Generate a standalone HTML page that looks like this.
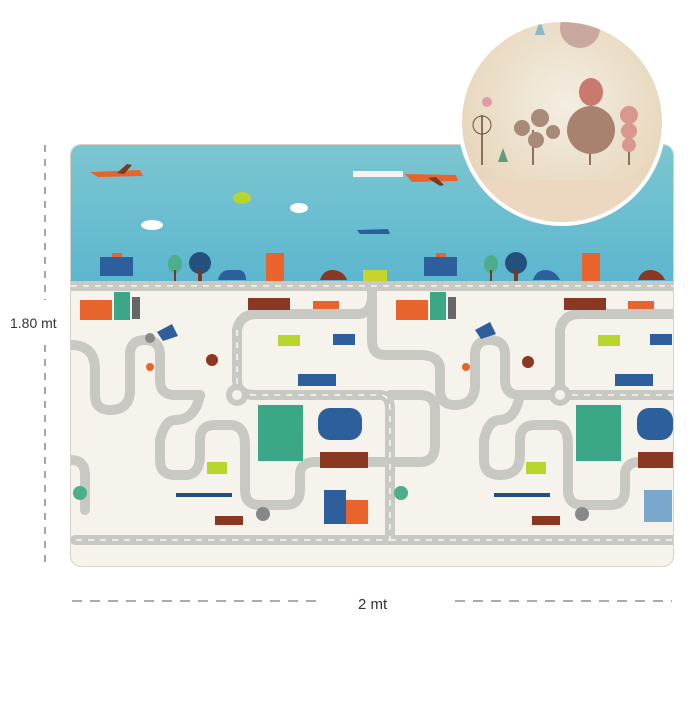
<!DOCTYPE html>
<html><head><meta charset="utf-8"><style>
html,body{margin:0;padding:0;background:#fff;}
body{width:700px;height:700px;overflow:hidden;font-family:"Liberation Sans",sans-serif;}
</style></head><body>
<svg width="700" height="700" viewBox="0 0 700 700" xmlns="http://www.w3.org/2000/svg">
<defs>
<clipPath id="mat"><rect x="71" y="145" width="602" height="421" rx="10"/></clipPath>
<clipPath id="circ"><circle cx="562" cy="122" r="100"/></clipPath>
<radialGradient id="cg" cx="0.5" cy="0.4" r="0.6"><stop offset="0" stop-color="#f3eee2"/><stop offset="1" stop-color="#e6d3b6"/></radialGradient>
<linearGradient id="sky" x1="0" y1="0" x2="0" y2="1"><stop offset="0" stop-color="#7cc6d0"/><stop offset="1" stop-color="#5bb6cf"/></linearGradient>
</defs>
<!-- dimension lines -->
<line x1="45" y1="145" x2="45" y2="300" stroke="#777" stroke-width="1.3" stroke-dasharray="7,7"/>
<line x1="45" y1="345" x2="45" y2="565" stroke="#777" stroke-width="1.3" stroke-dasharray="7,7"/>
<text x="10" y="328" font-size="14" fill="#333">1.80 mt</text>
<line x1="72" y1="601" x2="322" y2="601" stroke="#777" stroke-width="1.3" stroke-dasharray="10,8"/>
<line x1="455" y1="601" x2="672" y2="601" stroke="#777" stroke-width="1.3" stroke-dasharray="10,8"/>
<text x="358" y="609" font-size="15" fill="#333">2 mt</text>
<!-- mat -->
<rect x="70" y="144" width="604" height="423" rx="11" fill="#d8d2c8"/>
<g clip-path="url(#mat)">
<rect x="71" y="145" width="602" height="421" fill="#f5f3ec"/>
<rect x="71" y="145" width="602" height="140" fill="url(#sky)"/>
<!-- clouds -->
<ellipse cx="152" cy="225" rx="11" ry="5" fill="#fff"/><ellipse cx="299" cy="208" rx="9" ry="5" fill="#fff"/>
<!-- planes -->
<path d="M90 172 L140 170 L143 176 L98 177 Z" fill="#e8642c"/><path d="M117 173 L127 164 L132 165 L124 174Z" fill="#7a3a22"/>
<path d="M405 174 L456 175 L458 181 L412 182Z" fill="#e8642c"/><path d="M428 178 L440 186 L444 185 L436 177Z" fill="#7a3a22"/>
<rect x="353" y="171" width="50" height="6" fill="#f4f4f4"/>
<path d="M357 230 L388 229 L390 234 L360 234Z" fill="#2c5f9a"/>
<ellipse cx="242" cy="198" rx="9" ry="6" fill="#b8d52e"/>
<!-- skyline -->
<g>
<rect x="100" y="257" width="33" height="19" fill="#2d5f9c"/><rect x="112" y="253" width="10" height="4" fill="#e8642c"/>
<ellipse cx="175" cy="264" rx="7" ry="9" fill="#4cae8a"/><rect x="174" y="270" width="2" height="12" fill="#7a3a22"/>
<circle cx="200" cy="263" r="11" fill="#24507e"/><rect x="198" y="270" width="4" height="12" fill="#7a3a22"/>
<path d="M218 280 Q220 270 230 270 L240 270 Q246 272 246 280Z" fill="#2d5f9c"/>
<rect x="266" y="253" width="18" height="30" fill="#e8642c"/>
<path d="M320 280 Q323 270 333 270 Q344 271 347 280Z" fill="#8a3822"/>
<rect x="363" y="270" width="24" height="12" fill="#c8d42e"/>
<rect x="424" y="257" width="33" height="19" fill="#2d5f9c"/><rect x="436" y="253" width="10" height="4" fill="#e8642c"/>
<ellipse cx="491" cy="264" rx="7" ry="9" fill="#4cae8a"/><rect x="490" y="270" width="2" height="12" fill="#7a3a22"/>
<circle cx="516" cy="263" r="11" fill="#24507e"/><rect x="514" y="270" width="4" height="12" fill="#7a3a22"/>
<path d="M533 280 Q536 270 546 270 Q556 271 560 280Z" fill="#2d5f9c"/>
<rect x="582" y="253" width="18" height="30" fill="#e8642c"/>
<path d="M638 280 Q641 270 651 270 Q661 271 665 280Z" fill="#8a3822"/>
</g>
<!-- roads -->
<g fill="none" stroke="#c9c9c4" stroke-width="10" stroke-linejoin="round" stroke-linecap="round">
<path d="M71 286 H673"/>
<path d="M237 330 Q240 315 255 314 H360 Q372 312 372 296 V286"/>
<path d="M560 330 Q563 315 578 314 H673"/>
<path d="M71 345 Q95 345 95 370 V395 Q95 410 110 410 Q130 410 130 390 V355 Q130 340 145 340 Q160 340 160 355 V380 Q160 395 175 395 H200"/>
<path d="M237 330 V380 Q237 395 255 395 H380 Q390 395 390 410 V540 H75"/>
<path d="M200 395 Q195 420 175 420 Q165 420 160 440 V460 Q160 475 175 475 H185 Q200 475 200 455 V440 Q200 425 215 425 H230 Q245 425 245 445 V490 Q245 505 260 505 H285 Q300 505 300 490 V475 Q300 462 315 462 H390"/>
<path d="M372 296 V340 Q372 355 385 355 H420 Q440 355 440 370 V390 Q440 405 455 405 Q475 405 475 385 V355 Q475 340 490 340 Q505 340 505 355 V380 Q505 395 520 395 H560 V330"/>
<path d="M390 395 H420 Q435 395 435 410 V445 Q435 462 420 462 H390"/>
<path d="M520 395 Q515 420 500 420 Q488 420 484 440 V460 Q484 475 500 475 Q520 475 520 455 V440 Q520 425 535 425 H555 Q568 425 568 445 V490 Q568 505 583 505 H610 Q625 505 625 490 V475 Q625 462 640 462 H673"/>
<path d="M560 395 H673"/>
<path d="M390 540 H673"/>
<path d="M71 460 Q85 460 85 475 V510"/>
</g>
<g fill="none" stroke="#fff" stroke-width="1.3" stroke-dasharray="6,6">
<path d="M71 286 H673"/>
<path d="M237 330 V380 Q237 395 255 395 H380 Q390 395 390 410 V540 H75"/>
<path d="M390 540 H673"/>
<path d="M560 395 H673"/>
</g>
<circle cx="237" cy="395" r="11" fill="#c9c9c4"/><circle cx="237" cy="395" r="5" fill="#f5f3ec"/>
<circle cx="560" cy="395" r="11" fill="#c9c9c4"/><circle cx="560" cy="395" r="5" fill="#f5f3ec"/>
<!-- city features -->
<g>
<rect x="80" y="300" width="32" height="20" fill="#e8642c"/><rect x="114" y="292" width="16" height="28" fill="#3aa886"/><rect x="132" y="297" width="8" height="22" fill="#666"/>
<rect x="396" y="300" width="32" height="20" fill="#e8642c"/><rect x="430" y="292" width="16" height="28" fill="#3aa886"/><rect x="448" y="297" width="8" height="22" fill="#666"/>
<rect x="248" y="298" width="42" height="12" fill="#8a3822"/><rect x="564" y="298" width="42" height="12" fill="#8a3822"/>
<rect x="313" y="301" width="26" height="8" fill="#e8642c"/><rect x="628" y="301" width="26" height="8" fill="#e8642c"/>
<path d="M157 332 L172 324 L178 336 L163 341Z" fill="#2d5f9c"/><path d="M475 330 L490 322 L496 334 L481 339Z" fill="#2d5f9c"/>
<rect x="278" y="335" width="22" height="11" fill="#b8d52e"/><rect x="598" y="335" width="22" height="11" fill="#b8d52e"/>
<rect x="333" y="334" width="22" height="11" fill="#2d5f9c"/><rect x="650" y="334" width="22" height="11" fill="#2d5f9c"/>
<rect x="298" y="374" width="38" height="12" fill="#2d5f9c"/><rect x="615" y="374" width="38" height="12" fill="#2d5f9c"/>
<rect x="258" y="405" width="45" height="56" fill="#3aa886"/><rect x="576" y="405" width="45" height="56" fill="#3aa886"/>
<rect x="318" y="408" width="44" height="32" rx="12" fill="#2d5f9c"/><rect x="637" y="408" width="36" height="32" rx="12" fill="#2d5f9c"/>
<rect x="320" y="452" width="48" height="16" fill="#8a3822"/><rect x="638" y="452" width="35" height="16" fill="#8a3822"/>
<rect x="324" y="490" width="22" height="34" fill="#2d5f9c"/><rect x="346" y="500" width="22" height="24" fill="#e8642c"/>
<rect x="176" y="493" width="56" height="4" fill="#24507e"/><rect x="494" y="493" width="56" height="4" fill="#24507e"/>
<rect x="215" y="516" width="28" height="9" fill="#8a3822"/><rect x="532" y="516" width="28" height="9" fill="#8a3822"/>
<circle cx="80" cy="493" r="7" fill="#4cae8a"/><circle cx="401" cy="493" r="7" fill="#4cae8a"/>
<circle cx="263" cy="514" r="7" fill="#888"/><circle cx="582" cy="514" r="7" fill="#888"/>
<rect x="207" y="462" width="20" height="12" fill="#b8d52e"/><rect x="526" y="462" width="20" height="12" fill="#b8d52e"/>
<rect x="644" y="490" width="28" height="32" fill="#7aa7cc"/>
<circle cx="150" cy="338" r="5" fill="#888"/><circle cx="150" cy="367" r="4" fill="#e8642c"/><circle cx="466" cy="367" r="4" fill="#e8642c"/>
<circle cx="212" cy="360" r="6" fill="#8a3822"/><circle cx="528" cy="362" r="6" fill="#8a3822"/>
</g>
</g>
<!-- inset circle -->
<circle cx="562" cy="122" r="104" fill="#fff"/>
<g clip-path="url(#circ)">
<rect x="460" y="20" width="210" height="210" fill="url(#cg)"/>
<rect x="460" y="180" width="210" height="50" fill="#ecd8c1"/>
<circle cx="580" cy="28" r="20" fill="#c9a8a0"/>
<g fill="none" stroke="#6e4b3a" stroke-width="1.5"><line x1="482" y1="115" x2="482" y2="165"/><line x1="533" y1="130" x2="533" y2="165"/><line x1="590" y1="135" x2="590" y2="165"/><line x1="629" y1="120" x2="629" y2="165"/></g>
<circle cx="482" cy="125" r="9" fill="none" stroke="#6e4b3a"/>
<circle cx="522" cy="128" r="8" fill="#a98a78"/><circle cx="540" cy="118" r="9" fill="#a98a78"/><circle cx="536" cy="140" r="8" fill="#a98a78"/><circle cx="553" cy="132" r="7" fill="#a98a78"/>
<circle cx="591" cy="130" r="24" fill="#a8826e"/>
<ellipse cx="591" cy="92" rx="12" ry="14" fill="#c97a6e"/>
<circle cx="629" cy="115" r="9" fill="#d9988f"/><circle cx="629" cy="131" r="8" fill="#d9988f"/><circle cx="629" cy="145" r="7" fill="#d9988f"/>
<circle cx="487" cy="102" r="5" fill="#e39aa4"/>
<path d="M498 162 L503 148 L508 162Z" fill="#5a9e7a"/>
<path d="M535 35 L540 20 L545 35Z" fill="#8ab8c8"/>
</g>
</svg>
</body></html>
